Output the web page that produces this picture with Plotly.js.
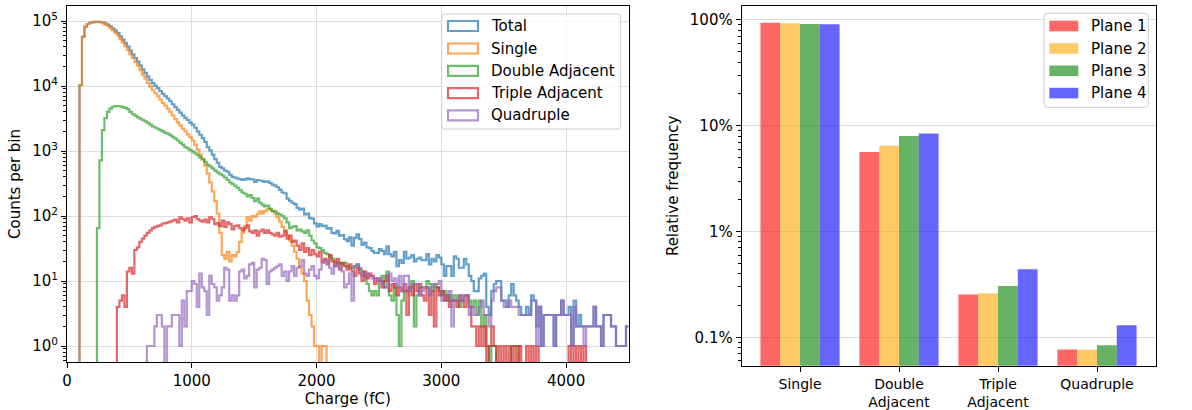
<!DOCTYPE html>
<html><head><meta charset="utf-8">
<script src="https://cdn.plot.ly/plotly-3.0.1.min.js"></script>
<style>html,body{margin:0;padding:0;background:#fff}#chart{width:1192px;height:410px}</style>
</head><body><div id="chart"></div>
<script>
// ---------- Left panel: charge histograms (20 fC bins, 0 - 4500 fC) ----------
const BIN_WIDTH = 20;
const N_BINS = 225;

const total = [
0,0,0,0,0,10300,57000,82000,90000,94000,
96000,97000,97100,96700,95100,92200,88000,82500,76800,70900,
64900,57850,51750,45600,40400,35000,30700,27000,23800,20700,
18000,15900,13960,12410,11070,10170,9270,8380,7580,6980,
6430,5830,5240,4740,4280,3900,3545,3240,3000,2740,
2540,2280,2000,1780,1580,1375,1150,1020,880,750,
660,570,540,500,480,430,400,390,375,370,
360,365,380,370,365,335,358,352,344,336,
342,324,305,294,277,253,230,224,185,171,
160,152,133,125,130,106,109,93,91,77,
69,75,70,71,64,65,55,54,59,50,
51,44,41,47,35,46,52,44,36,39,
33,32,29,27,27,31,29,26,34,26,
24,28,17,21,19,28,22,23,25,20,
22,23,21,21,26,18,22,20,25,23,
18,12,17,17,12,24,22,16,16,22,
18,12,10,7,7,11,12,13,4,3,
7,9,10,10,5,5,4,6,9,6,
5,4,3,3,4,3,6,5,2,4,
1,3,3,3,3,1,3,3,5,3,
3,4,1,5,2,3,2,2,2,2,
2,4,2,2,1,3,3,3,2,2,
1,1,1,1,2];

const single = [
0,0,0,0,0,10300,57000,82000,90000,94000,
96000,97000,97000,96000,93000,89000,84000,78000,72000,66000,
60000,53000,47000,41000,36000,31000,27000,23500,20500,17500,
15000,13000,11200,9800,8600,7800,7000,6200,5500,5000,
4500,4000,3500,3100,2750,2450,2200,2000,1800,1620,
1450,1250,1050,880,750,600,450,330,240,170,
110,55,25,22,28,20,25,24,28,40,
55,70,95,85,100,98,108,118,110,120,
128,125,118,110,95,82,68,60,50,42,
35,28,22,16,13,10,5,3,2,1,
1,0,1,1,0,0,0,0,0,0,
0,0,0,0,0,0,0,0,0,0,
0,0,0,0,0,0,0,0,0,0,
0,0,0,0,0,0,0,0,0,0,
0,0,0,0,0,0,0,0,0,0,
0,0,0,0,0,0,0,0,0,0,
0,0,0,0,0,0,0,0,0,0,
0,0,0,0,0,0,0,0,0,0,
0,0,0,0,0,0,0,0,0,0,
0,0,0,0,0,0,0,0,0,0,
0,0,0,0,0,0,0,0,0,0,
0,0,0,0,0,0,0,0,0,0,
0,0,0,0,0];

const doubleAdj = [
0,0,0,0,0,0,0,0,0,0,
0,0,65,720,2100,3200,4000,4500,4800,4900,
4900,4850,4750,4600,4400,4000,3700,3500,3300,3150,
3000,2850,2700,2550,2400,2300,2200,2100,2000,1900,
1850,1750,1650,1550,1450,1350,1250,1150,1100,1030,
980,920,860,800,740,680,620,580,540,500,
470,440,420,390,360,330,310,290,270,250,
230,220,200,210,190,170,185,160,150,140,
145,130,120,118,110,105,100,92,80,65,
68,70,60,62,58,55,60,50,42,38,
33,32,30,27,26,24,22,20,19,19,
18,19,17,16,16,17,18,15,14,12,
9,7,6,7,6,10,12,8,14,6,
5,9,3,1,5,7,7,8,10,2,
6,8,8,8,10,9,7,9,8,7,
6,7,5,6,5,6,5,4,5,6,
6,5,4,5,3,5,2,3,1,0,
1,1,0,0,0,0,0,0,1,1,
1,0,0,0,0,0,0,0,0,0,
0,0,0,0,0,0,0,0,0,0,
0,0,0,0,0,0,0,0,0,0,
0,0,0,0,0,0,0,0,0,0,
0,0,0,0,0];

const tripleAdj = [
0,0,0,0,0,0,0,0,0,0,
0,0,0,0,0,0,0,0,0,0,
4,5,6,4,14,16,13,30,33,40,
45,50,55,60,65,68,70,72,76,78,
80,82,85,88,80,95,90,85,92,80,
96,100,90,85,82,88,80,95,90,75,
78,70,85,68,80,75,62,70,72,65,
60,65,72,58,55,60,50,58,62,55,
60,55,52,50,55,48,50,58,45,50,
40,42,35,30,38,28,32,25,30,26,
24,28,20,22,18,25,20,17,22,15,
19,17,15,18,14,12,16,13,10,14,
11,13,12,9,11,10,8,10,12,7,
9,8,6,8,7,9,3,8,6,9,
7,9,6,5,8,3,7,2,8,6,
7,5,6,4,5,5,4,6,5,4,
6,4,2,2,1,2,1,2,0,1,
2,1,0,1,0,1,0,1,0,1,
0,1,0,0,1,0,1,0,1,0,
0,0,0,0,0,0,0,0,0,0,
0,1,0,1,0,1,0,1,0,0,
0,0,0,0,0,0,0,0,0,0,
0,0,0,0,0];

const quadruple = [
0,0,0,0,0,0,0,0,0,0,
0,0,0,0,0,0,0,0,0,0,
0,0,0,0,0,0,0,0,0,0,
0,0,1,1,1,2,3,3,2,0,
2,2,3,3,3,1,5,2,7,7,
10,9,4,13,8,7,3,12,9,8,
5,6,8,16,15,5,6,5,6,14,
15,11,12,18,19,8,15,16,22,21,
9,14,15,16,17,18,12,14,10,14,
17,12,16,17,21,13,12,15,17,12,
11,15,19,21,20,16,13,17,18,16,
14,8,9,13,5,17,18,16,12,13,
13,12,11,11,10,11,9,8,8,13,
10,11,8,12,7,12,12,7,9,9,
9,6,7,8,8,6,8,9,9,10,
5,6,6,7,2,5,5,6,5,6,
6,3,4,3,3,4,5,3,3,2,
5,7,8,8,5,4,4,5,4,4,
4,3,3,3,3,3,5,5,1,4,
1,3,3,3,3,1,3,3,5,3,
3,3,1,4,2,2,2,1,2,2,
2,4,2,2,1,3,3,3,2,2,
1,1,1,1,2];

const histNames = ['Total', 'Single', 'Double Adjacent', 'Triple Adjacent', 'Quadruple'];
const histData = [total, single, doubleAdj, tripleAdj, quadruple];
const histColors = ['rgba(31,119,180,0.7)', 'rgba(255,127,14,0.7)', 'rgba(44,160,44,0.7)', 'rgba(214,39,40,0.7)', 'rgba(148,103,189,0.7)'];
const xTickVals = [0, 1000, 2000, 3000, 4000];
const yTickVals = [1, 10, 100, 1000, 10000, 100000];
const yTickText = ['10<sup>0</sup>', '10<sup>1</sup>', '10<sup>2</sup>', '10<sup>3</sup>', '10<sup>4</sup>', '10<sup>5</sup>'];

// ---------- Right panel: relative frequency per plane (%) ----------
const categories = ['Single', 'Double Adjacent', 'Triple Adjacent', 'Quadruple'];
const categoryTickText = ['Single', 'Double<br>Adjacent', 'Triple<br>Adjacent', 'Quadruple'];
const planeNames = ['Plane 1', 'Plane 2', 'Plane 3', 'Plane 4'];
const plane1 = [94.0, 5.64, 0.254, 0.0766];
const plane2 = [93.2, 6.47, 0.261, 0.0765];
const plane3 = [91.6, 7.99, 0.306, 0.0841];
const plane4 = [91.0, 8.47, 0.440, 0.130];
const planeData = [plane1, plane2, plane3, plane4];
const planeColors = ['rgba(255,0,0,0.6)', 'rgba(255,165,0,0.6)', 'rgba(0,128,0,0.6)', 'rgba(0,0,255,0.6)'];
const pctTickVals = [0.1, 1, 10, 100];
const pctTickText = ['0.1%', '1%', '10%', '100%'];

// ---------- build ----------
const W = 1192, H = 410;
const FS = 15;
const px = x => x / W, py = y => 1 - y / H;
const FLOOR = 1e-3; // empty bins drop below the axis, like a log-scaled step histogram

const traces = [];
histData.forEach((counts, k) => {
  const xs = [], ys = [];
  for (let i = 0; i < counts.length; i++) { xs.push(i * BIN_WIDTH); ys.push(counts[i] > 0 ? counts[i] : FLOOR); }
  xs.push(counts.length * BIN_WIDTH); ys.push(counts[counts.length - 1] > 0 ? counts[counts.length - 1] : FLOOR);
  traces.push({type: 'scatter', mode: 'lines', x: xs, y: ys, name: histNames[k],
    line: {shape: 'hv', color: histColors[k], width: 2.2}, xaxis: 'x', yaxis: 'y', hoverinfo: 'skip'});
});
planeData.forEach((vals, k) => {
  traces.push({type: 'bar', x: categories, y: vals, name: planeNames[k],
    marker: {color: planeColors[k], line: {width: 0}}, xaxis: 'x2', yaxis: 'y2'});
});

function minorLogTicks(lo, hi) {
  const out = [];
  for (let e = Math.floor(lo) - 1; e <= Math.ceil(hi); e++)
    for (let m = 2; m <= 9; m++) { const v = m * Math.pow(10, e); const l = Math.log10(v); if (l >= lo && l <= hi) out.push(v); }
  return out;
}

function roundRectPath(x0, y0, x1, y1, r) {
  const X = v => px(v), Y = v => py(v);
  return `M ${X(x0 + r)} ${Y(y0)} L ${X(x1 - r)} ${Y(y0)} Q ${X(x1)} ${Y(y0)} ${X(x1)} ${Y(y0 + r)} ` +
         `L ${X(x1)} ${Y(y1 - r)} Q ${X(x1)} ${Y(y1)} ${X(x1 - r)} ${Y(y1)} L ${X(x0 + r)} ${Y(y1)} ` +
         `Q ${X(x0)} ${Y(y1)} ${X(x0)} ${Y(y1 - r)} L ${X(x0)} ${Y(y0 + r)} Q ${X(x0)} ${Y(y0)} ${X(x0 + r)} ${Y(y0)} Z`;
}

const shapes = [], annotations = [];
// left legend
shapes.push({type: 'path', xref: 'paper', yref: 'paper', path: roundRectPath(441.7, 14, 620.7, 129, 3),
  line: {color: '#cccccc', width: 1}, fillcolor: 'rgba(255,255,255,0.8)', layer: 'above'});
const leftRows = [26, 48.5, 70.8, 93.1, 115.4];
histNames.forEach((n, k) => {
  shapes.push({type: 'rect', xref: 'paper', yref: 'paper', x0: px(448), x1: px(478), y0: py(leftRows[k] - 5), y1: py(leftRows[k] + 5),
    line: {color: histColors[k], width: 2.2}, fillcolor: 'rgba(0,0,0,0)', layer: 'above'});
  annotations.push({xref: 'paper', yref: 'paper', x: px(489), y: py(leftRows[k]), xanchor: 'left', yanchor: 'middle',
    text: n, showarrow: false, font: {size: FS, color: '#000'}});
});
// right legend
shapes.push({type: 'path', xref: 'paper', yref: 'paper', path: roundRectPath(1044, 13.3, 1148.3, 107.3, 3),
  line: {color: '#cccccc', width: 1}, fillcolor: 'rgba(255,255,255,0.8)', layer: 'above'});
const rightRows = [26, 48.5, 70.8, 93.1];
planeNames.forEach((n, k) => {
  shapes.push({type: 'rect', xref: 'paper', yref: 'paper', x0: px(1049.3), x1: px(1078.3), y0: py(rightRows[k] - 5.3), y1: py(rightRows[k] + 5.3),
    line: {width: 0}, fillcolor: planeColors[k], layer: 'above'});
  annotations.push({xref: 'paper', yref: 'paper', x: px(1089), y: py(rightRows[k]), xanchor: 'left', yanchor: 'middle',
    text: n, showarrow: false, font: {size: FS, color: '#000'}});
});

const axisCommon = {showline: true, mirror: true, linecolor: '#000', linewidth: 1, ticks: 'outside', ticklen: 5,
  tickwidth: 1, tickcolor: '#000', zeroline: false, tickfont: {size: FS, color: '#000'}};

const layout = {
  width: W, height: H, margin: {l: 0, r: 0, t: 0, b: 0}, paper_bgcolor: '#fff', plot_bgcolor: '#fff',
  font: {family: 'DejaVu Sans, sans-serif', size: FS, color: '#000'},
  showlegend: false, barmode: 'group', bargap: 0.2, bargroupgap: 0,
  xaxis: Object.assign({}, axisCommon, {domain: [px(67), px(628.5)], anchor: 'y', range: [0, 4500],
    tickmode: 'array', tickvals: xTickVals, showgrid: true, gridcolor: '#dddddd', gridwidth: 1,
    title: {text: 'Charge (fC)', font: {size: FS}, standoff: 3}}),
  yaxis: Object.assign({}, axisCommon, {domain: [py(362), py(6)], anchor: 'x', type: 'log', range: [-0.246, 5.231],
    tickmode: 'array', tickvals: yTickVals, ticktext: yTickText, showgrid: true, gridcolor: '#dddddd', gridwidth: 1,
    minor: {tickmode: 'array', tickvals: minorLogTicks(-0.246, 5.231), ticks: 'outside', ticklen: 3, tickcolor: '#000', showgrid: false},
    title: {text: 'Counts per bin', font: {size: FS}, standoff: 7}}),
  xaxis2: Object.assign({}, axisCommon, {domain: [px(741.7), px(1155.7)], anchor: 'y2', type: 'category',
    categoryorder: 'array', categoryarray: categories, range: [-0.589, 3.593],
    tickmode: 'array', tickvals: categories, ticktext: categoryTickText, showgrid: false,
    tickfont: {size: 14, color: '#000'}}),
  yaxis2: Object.assign({}, axisCommon, {domain: [py(365.7), py(6)], anchor: 'x2', type: 'log', range: [-1.268, 2.132],
    tickmode: 'array', tickvals: pctTickVals, ticktext: pctTickText, showgrid: true, gridcolor: '#dddddd', gridwidth: 1,
    minor: {tickmode: 'array', tickvals: minorLogTicks(-1.268, 2.132), ticks: 'outside', ticklen: 3, tickcolor: '#000', showgrid: false},
    title: {text: 'Relative frequency', font: {size: FS}, standoff: 7}}),
  shapes: shapes, annotations: annotations
};

Plotly.newPlot('chart', traces, layout, {displayModeBar: false, staticPlot: true});
</script></body></html>
